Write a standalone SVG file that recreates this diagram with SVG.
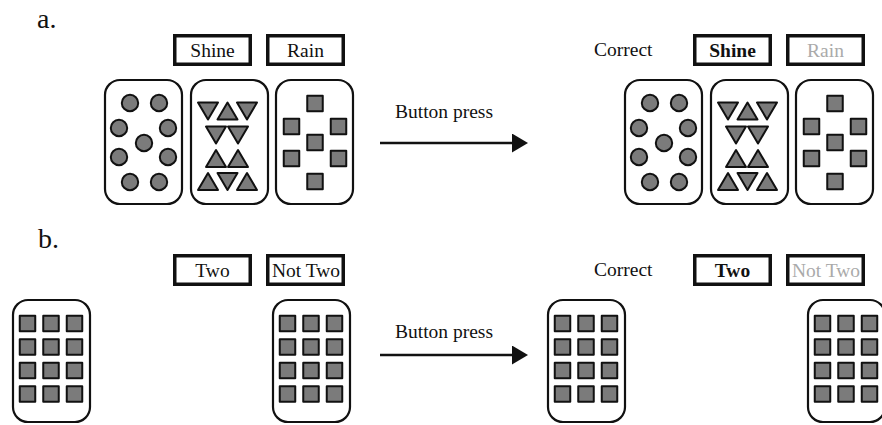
<svg xmlns="http://www.w3.org/2000/svg" xmlns:xlink="http://www.w3.org/1999/xlink" width="882" height="425" viewBox="0 0 882 425">
<style>
  text { font-family: "Liberation Serif", "Times New Roman", serif; font-size: 19.5px; fill: #111; }
  .lbl { font-size: 28px; }
  .mid { text-anchor: middle; }
  .bold { font-weight: bold; }
  .dim { fill: #aaaaaa; }
  .card { fill: #fff; stroke: #111; stroke-width: 2.2; }
  .box { fill: #fff; stroke: #111; stroke-width: 3.5; }
  .sh { fill: #7b7b7b; stroke: #111; stroke-width: 2; stroke-linejoin: round; }
  .conn { stroke: #111; stroke-width: 2.5; fill: none; }
</style>
<defs>
  <marker id="ah" markerUnits="userSpaceOnUse" markerWidth="17" markerHeight="20" refX="0" refY="9.5" orient="auto">
    <path d="M0,0 L16,9.5 L0,19 Z" fill="#111"/>
  </marker>
  <path id="tu" d="M-10,8.5 L10,8.5 L0,-8.5 Z"/>
  <path id="td" d="M-10,-8.5 L10,-8.5 L0,8.5 Z"/>
  <rect id="sq" x="-7.75" y="-7.75" width="15.5" height="15.5"/>
  <g id="dotsCard">
    <rect class="card" x="105" y="80" width="77" height="124" rx="15"/>
    <g class="sh">
      <circle cx="130" cy="103" r="8.2"/><circle cx="159" cy="103" r="8.2"/>
      <circle cx="119" cy="128" r="8.2"/><circle cx="168" cy="128" r="8.2"/>
      <circle cx="144" cy="143" r="8.2"/>
      <circle cx="119" cy="157" r="8.2"/><circle cx="168" cy="157" r="8.2"/>
      <circle cx="130" cy="182" r="8.2"/><circle cx="159" cy="182" r="8.2"/>
    </g>
  </g>
  <g id="triCard">
    <rect class="card" x="191" y="80" width="77" height="124" rx="15"/>
    <g class="sh">
      <use xlink:href="#td" x="208" y="111"/><use xlink:href="#tu" x="227.5" y="111"/><use xlink:href="#td" x="247" y="111"/>
      <use xlink:href="#td" x="216" y="135"/><use xlink:href="#td" x="238" y="135"/>
      <use xlink:href="#tu" x="216" y="158.5"/><use xlink:href="#tu" x="238" y="158.5"/>
      <use xlink:href="#tu" x="208" y="181.5"/><use xlink:href="#td" x="227.5" y="181.5"/><use xlink:href="#tu" x="247" y="181.5"/>
    </g>
  </g>
  <g id="sqCard">
    <rect class="card" x="276" y="80" width="77" height="124" rx="15"/>
    <g class="sh">
      <use xlink:href="#sq" x="315" y="103.5"/>
      <use xlink:href="#sq" x="291.5" y="126.5"/><use xlink:href="#sq" x="338.5" y="126.5"/>
      <use xlink:href="#sq" x="315" y="142.5"/>
      <use xlink:href="#sq" x="291.5" y="158.5"/><use xlink:href="#sq" x="338.5" y="158.5"/>
      <use xlink:href="#sq" x="315" y="181.5"/>
    </g>
  </g>
  <g id="gridCard">
    <rect class="card" x="1" y="300" width="77" height="122" rx="15"/>
    <g class="sh">
      <use xlink:href="#sq" x="15.5" y="323.5"/><use xlink:href="#sq" x="39" y="323.5"/><use xlink:href="#sq" x="62.5" y="323.5"/>
      <use xlink:href="#sq" x="15.5" y="347"/><use xlink:href="#sq" x="39" y="347"/><use xlink:href="#sq" x="62.5" y="347"/>
      <use xlink:href="#sq" x="15.5" y="370.5"/><use xlink:href="#sq" x="39" y="370.5"/><use xlink:href="#sq" x="62.5" y="370.5"/>
      <use xlink:href="#sq" x="15.5" y="394"/><use xlink:href="#sq" x="39" y="394"/><use xlink:href="#sq" x="62.5" y="394"/>
    </g>
  </g>
</defs>
<rect width="882" height="425" fill="#fff"/>

<text class="lbl" x="37" y="28">a.</text>
<text class="lbl" x="38" y="248">b.</text>

<!-- Panel a, before -->
<g id="a-shine"><rect class="box" x="174.75" y="35.75" width="75.5" height="28.5"/><text class="mid" x="212.5" y="57">Shine</text></g>
<g id="a-rain"><rect class="box" x="267.75" y="35.75" width="75.5" height="28.5"/><text class="mid" x="305.5" y="57">Rain</text></g>
<g id="a-card-dots"><use xlink:href="#dotsCard"/></g>
<g id="a-card-tri"><use xlink:href="#triCard"/></g>
<g id="a-card-sq"><use xlink:href="#sqCard"/></g>

<!-- Panel a, after -->
<g id="a-correct"><text x="594" y="56">Correct</text></g>
<g id="a-shine2"><rect class="box" x="694.75" y="35.75" width="75.5" height="28.5"/><text class="mid bold" x="732.5" y="57">Shine</text></g>
<g id="a-rain2"><rect class="box" x="787.75" y="35.75" width="75.5" height="28.5"/><text class="mid dim" x="825.5" y="57">Rain</text></g>
<g id="a-card-dots2"><use xlink:href="#dotsCard" x="520"/></g>
<g id="a-card-tri2"><use xlink:href="#triCard" x="520"/></g>
<g id="a-card-sq2"><use xlink:href="#sqCard" x="520"/></g>

<!-- Panel b, before -->
<g id="b-two"><rect class="box" x="174.75" y="255.75" width="75.5" height="28.5"/><text class="mid" x="212.5" y="277">Two</text></g>
<g id="b-nottwo"><rect class="box" x="267.75" y="255.75" width="75.5" height="28.5"/><text class="mid" x="306" y="277">Not Two</text></g>
<g id="b-card1"><use xlink:href="#gridCard" x="12"/></g>
<g id="b-card2"><use xlink:href="#gridCard" x="272"/></g>

<!-- Panel b, after -->
<g id="b-correct"><text x="594" y="276">Correct</text></g>
<g id="b-two2"><rect class="box" x="694.75" y="255.75" width="75.5" height="28.5"/><text class="mid bold" x="732.5" y="277">Two</text></g>
<g id="b-nottwo2"><rect class="box" x="787.75" y="255.75" width="75.5" height="28.5"/><text class="mid dim" x="826" y="277">Not Two</text></g>
<g id="b-card3"><use xlink:href="#gridCard" x="547"/></g>
<g id="b-card4"><use xlink:href="#gridCard" x="807"/></g>

<!-- Connectors -->
<g id="connectors">
  <line class="conn" x1="380" y1="143" x2="512" y2="143" marker-end="url(#ah)"/>
  <text x="395" y="118">Button press</text>
  <line class="conn" x1="380" y1="355" x2="512" y2="355" marker-end="url(#ah)"/>
  <text x="395" y="338">Button press</text>
</g>
</svg>
